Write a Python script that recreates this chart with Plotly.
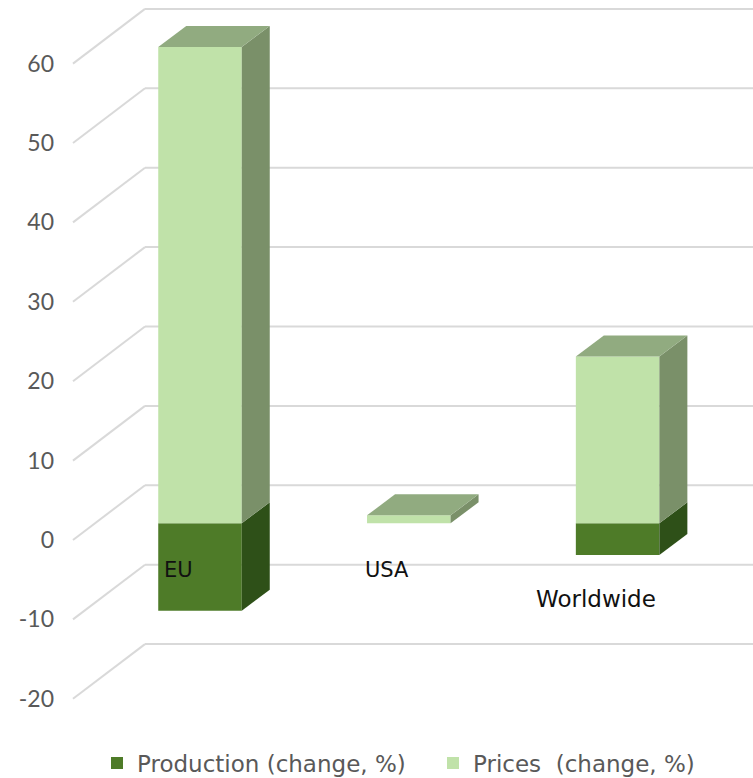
import plotly.graph_objects as go

categories = ["EU", "USA", "Worldwide"]
production = [-11, 0, -4]
prices = [60, 1, 21]
tick_values = [-20, -10, 0, 10, 20, 30, 40, 50, 60]
tick_labels = ["-20", "-10", "0", "10", "20", "30", "40", "50", "60"]

# window geometry: the canvas runs a little below the window so the legend box fits
W, H = 753, 800
AXIS_PX = 55
X_ORIGIN_PX, X_UNIT_PX = 200.0, 208.8
Y_ZERO_PX, Y_UNIT_PX = 523.3, 7.94
BAR_W = 0.4
DX, DY = 28.0 / X_UNIT_PX, 21.0 / Y_UNIT_PX
BACK_X, BACK_DY = (145 - X_ORIGIN_PX) / X_UNIT_PX, 38.0 / Y_UNIT_PX
LEFT_X, LEFT_DY = (73 - X_ORIGIN_PX) / X_UNIT_PX, 16.7 / Y_UNIT_PX

C_DARK, C_DARK_SIDE = "#4E7B28", "#2E5018"
C_LIGHT, C_LIGHT_SIDE, C_LIGHT_TOP = "#C0E2A9", "#7A9069", "#91AB80"
TICK_FONT = "Lato"
TEXT_FONT = "DejaVu Sans"

x_range = [(AXIS_PX - X_ORIGIN_PX) / X_UNIT_PX, (W - X_ORIGIN_PX) / X_UNIT_PX]
y_range = [-(H - Y_ZERO_PX) / Y_UNIT_PX, Y_ZERO_PX / Y_UNIT_PX]
positions = list(range(len(categories)))

fig = go.Figure()

fig.add_bar(x=positions, y=production, width=BAR_W, name="Production (change, %)",
            marker=dict(color=C_DARK, line=dict(width=0)), hoverinfo="skip", legend="legend")
fig.add_bar(x=positions, y=prices, width=BAR_W, name="Prices  (change, %)",
            marker=dict(color=C_LIGHT, line=dict(width=0)), hoverinfo="skip", legend="legend2")


def face(xs, ys, color):
    fig.add_scatter(x=xs, y=ys, mode="lines", fill="toself", fillcolor=color,
                    line=dict(width=0, color=color), showlegend=False, hoverinfo="skip")


for i, (low, high) in enumerate(zip(production, prices)):
    right = i + BAR_W / 2
    left = i - BAR_W / 2
    if low != 0:
        face([right, right + DX, right + DX, right, right],
             [low, low + DY, DY, 0, low], C_DARK_SIDE)
    face([right, right + DX, right + DX, right, right],
         [0, DY, high + DY, high, 0], C_LIGHT_SIDE)
    face([left, right, right + DX, left + DX, left],
         [high, high, high + DY, high + DY, high], C_LIGHT_TOP)

# carries the value axis, which sits on the projected front edge of the floor
fig.add_scatter(x=[None], y=[None], yaxis="y2", showlegend=False, hoverinfo="skip")

grid_line = dict(color="#D9D9D9", width=2)
shapes = []
for v in tick_values:
    shapes.append(dict(type="line", layer="below", xref="x", yref="y", line=grid_line,
                       x0=BACK_X, x1=x_range[1], y0=v + BACK_DY, y1=v + BACK_DY))
    shapes.append(dict(type="line", layer="below", xref="x", yref="y", line=grid_line,
                       x0=LEFT_X, x1=BACK_X, y0=v - LEFT_DY, y1=v + BACK_DY))

label_px = {"EU": (178, 570, 21), "USA": (387, 570, 21), "Worldwide": (596, 599, 23)}
annotations = [
    dict(text=c, xref="x", yref="y", showarrow=False,
         x=(label_px[c][0] - X_ORIGIN_PX) / X_UNIT_PX,
         y=(Y_ZERO_PX - label_px[c][1]) / Y_UNIT_PX,
         font=dict(family=TEXT_FONT, size=label_px[c][2], color="#111111"))
    for c in categories
]


def legend_at(px):
    return dict(orientation="h", x=px / W, xanchor="left",
                y=1 - 763 / H, yanchor="middle",
                font=dict(family=TEXT_FONT, size=23, color="#595959"),
                itemclick=False, itemdoubleclick=False, bgcolor="rgba(0,0,0,0)")


fig.update_layout(
    width=W, height=H, autosize=False,
    margin=dict(l=0, r=0, t=0, b=0),
    paper_bgcolor="white", plot_bgcolor="white",
    barmode="relative",
    shapes=shapes, annotations=annotations,
    xaxis=dict(domain=[AXIS_PX / W, 1], range=x_range, visible=False),
    yaxis=dict(domain=[0, 1], range=y_range, visible=False),
    yaxis2=dict(domain=[0, 1], overlaying="y", side="left", anchor="x",
                range=[y_range[0] + LEFT_DY, y_range[1] + LEFT_DY],
                tickvals=tick_values, ticktext=tick_labels,
                showgrid=False, zeroline=False, showline=False,
                ticks="", ticklen=0, tickfont=dict(family=TICK_FONT, size=23, color="#595959")),
    legend=legend_at(97),
    legend2=legend_at(433),
    showlegend=True,
)

fig.write_html("out.html", config={"displayModeBar": False},
               post_script="document.body.style.margin='0';document.documentElement.style.overflow='hidden';")
